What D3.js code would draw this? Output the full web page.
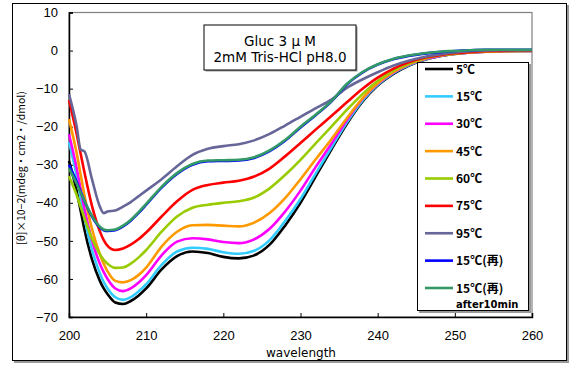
<!DOCTYPE html>
<html>
<head>
<meta charset="utf-8">
<script src="https://cdn.jsdelivr.net/npm/d3@7"></script>
<style>
  body { margin: 0; background: #fff; }
  svg { display: block; }
  text { font-family: "Noto Sans CJK JP", "DejaVu Sans", sans-serif; }
</style>
</head>
<body>
<svg width="570" height="365"></svg>
<script>
// wavelength (nm) shared by all series
const wavelengths = [200,201,201.5,202,203,204,204.5,205,206,207,
  208,209,210,212,214,216,218,220,222,224,
  226,228,230,232,234,236,238,240,242,244,
  246,248,250,252,254,256,258,260];

const c5 = [-29,-37,-42,-47,-55,-60.5,-62.5,-64,-66.2,-66.6,
  -65.8,-64.4,-62.5,-57.5,-54,-52.8,-53.2,-54.2,-54.6,-53.8,
  -51,-46,-40,-33,-26,-19.3,-13.5,-9.2,-6.2,-4,
  -2.5,-1.5,-0.9,-0.5,-0.3,-0.2,-0.1,-0.1];
const c15 = [-24,-33,-38.5,-44,-52.5,-58.5,-60.8,-62.5,-64.8,-65.5,
  -64.8,-63.3,-61.4,-56.3,-52.8,-51.8,-52.1,-53,-53.4,-52.6,
  -49.8,-44.8,-39,-32.2,-25.5,-18.9,-13.2,-9,-6,-3.9,
  -2.4,-1.4,-0.8,-0.5,-0.3,-0.2,-0.1,-0.1];
const c30 = [-22,-31,-36.3,-41.5,-50,-56,-58.2,-60,-62.5,-63.2,
  -62.5,-61,-59,-53.8,-50.2,-49.3,-49.6,-50.3,-50.6,-49.6,
  -46.8,-42.3,-36.8,-30.5,-24.5,-18.3,-12.8,-8.7,-5.8,-3.7,
  -2.3,-1.4,-0.8,-0.5,-0.3,-0.2,-0.1,-0.1];
const c45 = [-18,-27,-32.5,-38,-47,-53.5,-56,-58,-60.5,-60.9,
  -60.3,-59,-57,-51.5,-47.6,-45.9,-45.8,-46,-46.2,-45.2,
  -42.7,-38.8,-33.8,-28.5,-23.3,-17.8,-12.6,-8.6,-5.7,-3.6,
  -2.2,-1.3,-0.8,-0.5,-0.3,-0.2,-0.1,-0.1];
const c60 = [-33,-38,-41,-44,-49.5,-53.5,-55,-56,-57.1,-57,
  -56,-54.4,-52.4,-47.6,-43.6,-41.3,-40.5,-40,-39.6,-38.6,
  -36.2,-32.7,-28.7,-24.3,-20,-15.6,-11.5,-8,-5.3,-3.4,
  -2.1,-1.3,-0.8,-0.4,-0.2,-0.1,-0.1,0];
const c75 = [-13,-22,-27,-32,-41,-47.5,-49.8,-51.3,-52.4,-52,
  -51,-49.6,-47.8,-43.6,-39.6,-36.6,-35.3,-34.7,-34.2,-33.1,
  -31,-27.8,-24.3,-20.7,-17.2,-13.6,-10.1,-7.1,-4.8,-3.1,
  -1.9,-1.2,-0.7,-0.4,-0.2,-0.1,0,0];
const c95 = [-11.5,-20,-26,-26.5,-34,-41,-42.7,-42.3,-42,-41,
  -39.8,-38.3,-36.8,-33.8,-30.4,-27.4,-25.8,-25.1,-24.6,-23.6,
  -21.9,-19.7,-17.4,-15.1,-12.9,-9.8,-7.6,-5.7,-4,-2.7,
  -1.7,-1,-0.5,-0.2,0,0.1,0.1,0.1];
const c15re = [-30,-34.5,-37,-39.5,-43.7,-46.5,-47.2,-47.4,-47.2,-46.2,
  -44.7,-42.7,-40.5,-36,-32.4,-30,-29.1,-29,-28.9,-28.2,
  -26.4,-23.7,-20.2,-16.9,-13.4,-8.9,-5.8,-3.7,-2.3,-1.4,
  -0.8,-0.4,-0.1,0.1,0.2,0.2,0.2,0.2];
const c15re10 = [-31,-35,-37.3,-39.5,-43.5,-46.3,-47,-47.2,-47,-46,
  -44.5,-42.5,-40.3,-35.8,-32.2,-29.8,-28.9,-28.8,-28.7,-28,
  -26.2,-23.5,-20,-16.8,-13.3,-8.8,-5.7,-3.6,-2.2,-1.3,
  -0.7,-0.3,-0.1,0.1,0.2,0.2,0.2,0.2];

const seriesNames = ["5℃","15℃","30℃","45℃","60℃","75℃","95℃","15℃(再)","15℃(再)"];
const seriesValues = [c5, c15, c30, c45, c60, c75, c95, c15re, c15re10];
const seriesColors = ["#000000","#33ccff","#ff00ff","#ff9900","#99cc00","#ff0000","#666699","#0000ff","#339966"];

const xTicks = [200,210,220,230,240,250,260];
const yTicks = [10,0,-10,-20,-30,-40,-50,-60,-70];

const svg = d3.select("svg");

// chart frame with shadow
svg.append("rect").attr("x", 14).attr("y", 5).attr("width", 555).attr("height", 358)
  .attr("fill", "#999");
svg.append("rect").attr("x", 12.5).attr("y", 3.5).attr("width", 554).attr("height", 357)
  .attr("fill", "#fff").attr("stroke", "#000").attr("stroke-width", 1);

const plot = {left: 69, top: 12.5, right: 532, bottom: 317};

const x = d3.scaleLinear().domain([200, 260]).range([plot.left, plot.right]);
const y = d3.scaleLinear().domain([-70, 10]).range([plot.bottom, plot.top]);

// plot area border
svg.append("rect")
  .attr("x", plot.left).attr("y", plot.top)
  .attr("width", plot.right - plot.left).attr("height", plot.bottom - plot.top)
  .attr("fill", "none").attr("stroke", "#808080").attr("stroke-width", 1.2);

// axes
const xAxis = svg.append("g")
  .attr("transform", `translate(0,${plot.bottom})`)
  .call(d3.axisBottom(x).tickValues(xTicks).tickSize(-4).tickPadding(14));
const yAxis = svg.append("g")
  .attr("transform", `translate(${plot.left},0)`)
  .call(d3.axisLeft(y).tickValues(yTicks).tickSize(-4).tickPadding(11));

[xAxis, yAxis].forEach(a => {
  a.select(".domain").attr("stroke", "#000").attr("stroke-width", 1.5);
  a.selectAll(".tick line").attr("stroke", "#000").attr("stroke-width", 1);
  a.selectAll(".tick text").attr("font-size", "13px").attr("fill", "#000")
    .style("font-family", "'Liberation Sans', Arial, sans-serif");
});

// axis titles
svg.append("text")
  .attr("x", 301).attr("y", 357)
  .attr("text-anchor", "middle").attr("font-size", "12px")
  .style("font-family", "'DejaVu Sans', sans-serif")
  .text("wavelength");

svg.append("text")
  .attr("transform", "translate(25,168) rotate(-90)")
  .attr("text-anchor", "middle").attr("font-size", "10.5px")
  .text("[θ]×10−2(mdeg・cm2・/dmol)");

// curves
const line = d3.line()
  .x((d, i) => x(wavelengths[i]))
  .y(d => y(d))
  .curve(d3.curveMonotoneX);

svg.append("g").selectAll("path")
  .data(seriesValues)
  .join("path")
  .attr("d", line)
  .attr("fill", "none")
  .attr("stroke", (d, i) => seriesColors[i])
  .attr("stroke-width", 2.6)
  .attr("stroke-linejoin", "round");

// info box
const info = svg.append("g");
info.append("rect").attr("x", 205.5).attr("y", 26.5).attr("width", 152).attr("height", 45).attr("fill", "#999");
info.append("rect").attr("x", 204).attr("y", 25).attr("width", 152).attr("height", 45)
  .attr("fill", "#fff").attr("stroke", "#000");
info.append("text").attr("x", 280).attr("y", 45.5).attr("text-anchor", "middle")
  .attr("font-size", "13.5px").style("font-family", "'DejaVu Sans', sans-serif")
  .text("Gluc 3 μ M");
info.append("text").attr("x", 280).attr("y", 62).attr("text-anchor", "middle")
  .attr("font-size", "13.5px").style("font-family", "'DejaVu Sans', sans-serif")
  .text("2mM Tris-HCl pH8.0");

// legend
const legend = svg.append("g");
legend.append("rect").attr("x", 419).attr("y", 64).attr("width", 112).attr("height", 249).attr("fill", "#999");
legend.append("rect").attr("x", 417.5).attr("y", 62.5).attr("width", 111).attr("height", 248)
  .attr("fill", "#fff").attr("stroke", "#000");

const legendY = d3.scaleLinear().domain([0, 8]).range([69, 288]);
const items = legend.selectAll("g.item")
  .data(seriesNames)
  .join("g")
  .attr("class", "item")
  .attr("transform", (d, i) => `translate(0,${legendY(i)})`);
items.append("line")
  .attr("x1", 425).attr("x2", 453).attr("y1", 0).attr("y2", 0)
  .attr("stroke", (d, i) => seriesColors[i]).attr("stroke-width", 2.6);
items.append("text")
  .attr("x", 456).attr("y", 4.5)
  .attr("font-size", "12px").attr("font-weight", "bold")
  .text(d => d);
legend.append("text")
  .attr("x", 456).attr("y", legendY(8) + 20)
  .attr("font-size", "10px").attr("font-weight", "bold")
  .style("font-family", "'DejaVu Sans', sans-serif")
  .text("after10min");
</script>
</body>
</html>
